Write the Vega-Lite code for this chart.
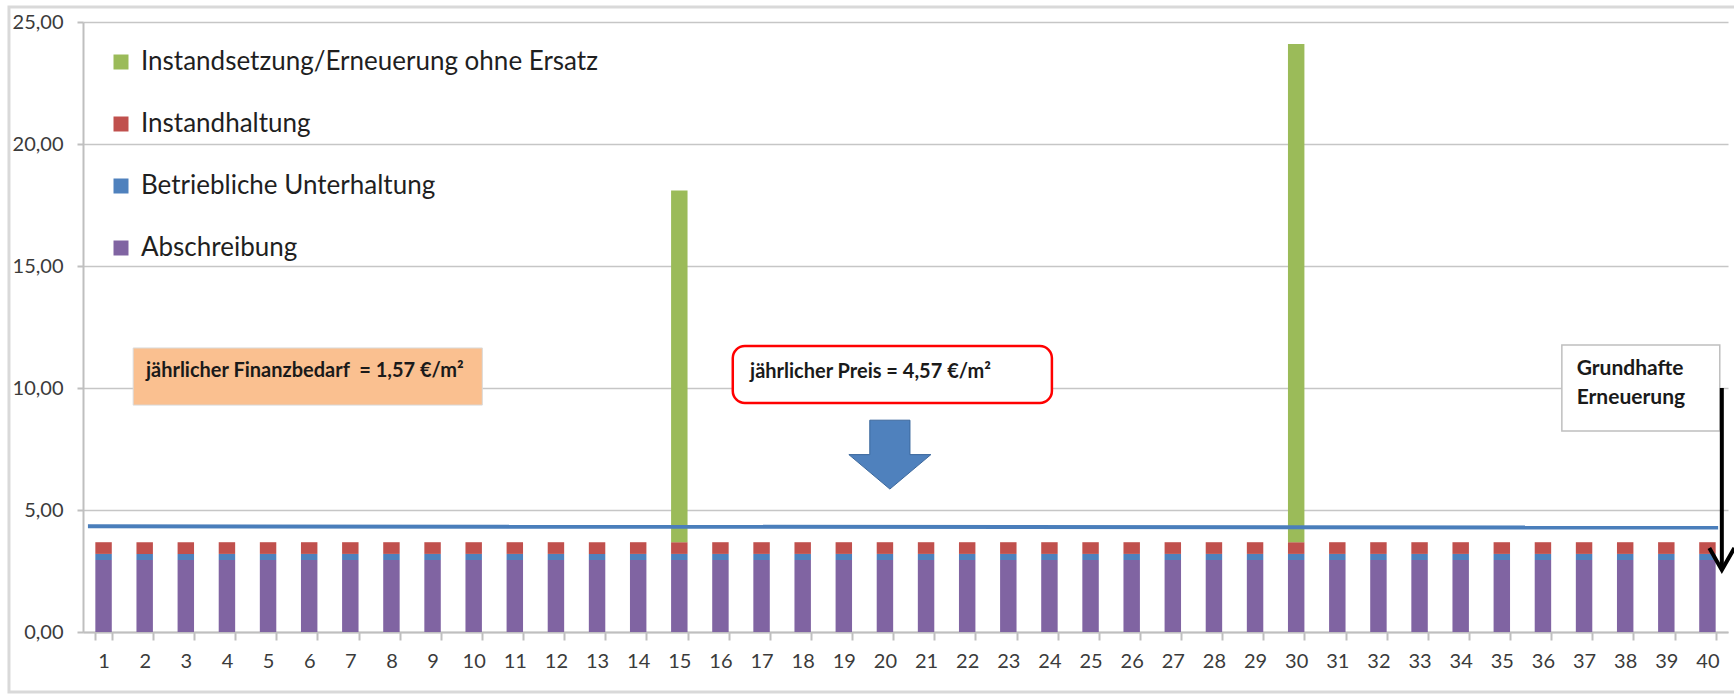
{
  "$schema": "https://vega.github.io/schema/vega-lite/v6.json",
  "width": 1645,
  "height": 610,
  "autosize": {"type": "none"},
  "padding": {"left": 83, "top": 22, "right": 6, "bottom": 63},
  "background": "white",
  "config": {"view": {"stroke": null}, "font": "Lato"},
  "resolve": {"scale": {"x": "independent"}},
  "layer": [
    {
      "data": {"values": [{"rahmen": "Diagrammrahmen"}]},
      "mark": {"type": "rect", "fill": null, "stroke": "#D9D9D9", "strokeWidth": 3, "clip": false},
      "encoding": {
        "x": {"datum": -1.3, "type": "quantitative", "scale": {"domain": [0.5, 40.5], "nice": false, "zero": false}, "axis": null},
        "x2": {"datum": 41.0},
        "y": {"datum": 25.61, "type": "quantitative"},
        "y2": {"datum": -2.46}
      }
    },
    {
      "data": {"values": [
        {"Jahr":1,"Kategorie":"Abschreibung","Wert":2.95},{"Jahr":1,"Kategorie":"Betriebliche Unterhaltung","Wert":0.25},{"Jahr":1,"Kategorie":"Instandhaltung","Wert":0.48},
        {"Jahr":2,"Kategorie":"Abschreibung","Wert":2.95},{"Jahr":2,"Kategorie":"Betriebliche Unterhaltung","Wert":0.25},{"Jahr":2,"Kategorie":"Instandhaltung","Wert":0.48},
        {"Jahr":3,"Kategorie":"Abschreibung","Wert":2.95},{"Jahr":3,"Kategorie":"Betriebliche Unterhaltung","Wert":0.25},{"Jahr":3,"Kategorie":"Instandhaltung","Wert":0.48},
        {"Jahr":4,"Kategorie":"Abschreibung","Wert":2.95},{"Jahr":4,"Kategorie":"Betriebliche Unterhaltung","Wert":0.25},{"Jahr":4,"Kategorie":"Instandhaltung","Wert":0.48},
        {"Jahr":5,"Kategorie":"Abschreibung","Wert":2.95},{"Jahr":5,"Kategorie":"Betriebliche Unterhaltung","Wert":0.25},{"Jahr":5,"Kategorie":"Instandhaltung","Wert":0.48},
        {"Jahr":6,"Kategorie":"Abschreibung","Wert":2.95},{"Jahr":6,"Kategorie":"Betriebliche Unterhaltung","Wert":0.25},{"Jahr":6,"Kategorie":"Instandhaltung","Wert":0.48},
        {"Jahr":7,"Kategorie":"Abschreibung","Wert":2.95},{"Jahr":7,"Kategorie":"Betriebliche Unterhaltung","Wert":0.25},{"Jahr":7,"Kategorie":"Instandhaltung","Wert":0.48},
        {"Jahr":8,"Kategorie":"Abschreibung","Wert":2.95},{"Jahr":8,"Kategorie":"Betriebliche Unterhaltung","Wert":0.25},{"Jahr":8,"Kategorie":"Instandhaltung","Wert":0.48},
        {"Jahr":9,"Kategorie":"Abschreibung","Wert":2.95},{"Jahr":9,"Kategorie":"Betriebliche Unterhaltung","Wert":0.25},{"Jahr":9,"Kategorie":"Instandhaltung","Wert":0.48},
        {"Jahr":10,"Kategorie":"Abschreibung","Wert":2.95},{"Jahr":10,"Kategorie":"Betriebliche Unterhaltung","Wert":0.25},{"Jahr":10,"Kategorie":"Instandhaltung","Wert":0.48},
        {"Jahr":11,"Kategorie":"Abschreibung","Wert":2.95},{"Jahr":11,"Kategorie":"Betriebliche Unterhaltung","Wert":0.25},{"Jahr":11,"Kategorie":"Instandhaltung","Wert":0.48},
        {"Jahr":12,"Kategorie":"Abschreibung","Wert":2.95},{"Jahr":12,"Kategorie":"Betriebliche Unterhaltung","Wert":0.25},{"Jahr":12,"Kategorie":"Instandhaltung","Wert":0.48},
        {"Jahr":13,"Kategorie":"Abschreibung","Wert":2.95},{"Jahr":13,"Kategorie":"Betriebliche Unterhaltung","Wert":0.25},{"Jahr":13,"Kategorie":"Instandhaltung","Wert":0.48},
        {"Jahr":14,"Kategorie":"Abschreibung","Wert":2.95},{"Jahr":14,"Kategorie":"Betriebliche Unterhaltung","Wert":0.25},{"Jahr":14,"Kategorie":"Instandhaltung","Wert":0.48},
        {"Jahr":15,"Kategorie":"Abschreibung","Wert":2.95},{"Jahr":15,"Kategorie":"Betriebliche Unterhaltung","Wert":0.25},{"Jahr":15,"Kategorie":"Instandhaltung","Wert":0.48},
        {"Jahr":16,"Kategorie":"Abschreibung","Wert":2.95},{"Jahr":16,"Kategorie":"Betriebliche Unterhaltung","Wert":0.25},{"Jahr":16,"Kategorie":"Instandhaltung","Wert":0.48},
        {"Jahr":17,"Kategorie":"Abschreibung","Wert":2.95},{"Jahr":17,"Kategorie":"Betriebliche Unterhaltung","Wert":0.25},{"Jahr":17,"Kategorie":"Instandhaltung","Wert":0.48},
        {"Jahr":18,"Kategorie":"Abschreibung","Wert":2.95},{"Jahr":18,"Kategorie":"Betriebliche Unterhaltung","Wert":0.25},{"Jahr":18,"Kategorie":"Instandhaltung","Wert":0.48},
        {"Jahr":19,"Kategorie":"Abschreibung","Wert":2.95},{"Jahr":19,"Kategorie":"Betriebliche Unterhaltung","Wert":0.25},{"Jahr":19,"Kategorie":"Instandhaltung","Wert":0.48},
        {"Jahr":20,"Kategorie":"Abschreibung","Wert":2.95},{"Jahr":20,"Kategorie":"Betriebliche Unterhaltung","Wert":0.25},{"Jahr":20,"Kategorie":"Instandhaltung","Wert":0.48},
        {"Jahr":21,"Kategorie":"Abschreibung","Wert":2.95},{"Jahr":21,"Kategorie":"Betriebliche Unterhaltung","Wert":0.25},{"Jahr":21,"Kategorie":"Instandhaltung","Wert":0.48},
        {"Jahr":22,"Kategorie":"Abschreibung","Wert":2.95},{"Jahr":22,"Kategorie":"Betriebliche Unterhaltung","Wert":0.25},{"Jahr":22,"Kategorie":"Instandhaltung","Wert":0.48},
        {"Jahr":23,"Kategorie":"Abschreibung","Wert":2.95},{"Jahr":23,"Kategorie":"Betriebliche Unterhaltung","Wert":0.25},{"Jahr":23,"Kategorie":"Instandhaltung","Wert":0.48},
        {"Jahr":24,"Kategorie":"Abschreibung","Wert":2.95},{"Jahr":24,"Kategorie":"Betriebliche Unterhaltung","Wert":0.25},{"Jahr":24,"Kategorie":"Instandhaltung","Wert":0.48},
        {"Jahr":25,"Kategorie":"Abschreibung","Wert":2.95},{"Jahr":25,"Kategorie":"Betriebliche Unterhaltung","Wert":0.25},{"Jahr":25,"Kategorie":"Instandhaltung","Wert":0.48},
        {"Jahr":26,"Kategorie":"Abschreibung","Wert":2.95},{"Jahr":26,"Kategorie":"Betriebliche Unterhaltung","Wert":0.25},{"Jahr":26,"Kategorie":"Instandhaltung","Wert":0.48},
        {"Jahr":27,"Kategorie":"Abschreibung","Wert":2.95},{"Jahr":27,"Kategorie":"Betriebliche Unterhaltung","Wert":0.25},{"Jahr":27,"Kategorie":"Instandhaltung","Wert":0.48},
        {"Jahr":28,"Kategorie":"Abschreibung","Wert":2.95},{"Jahr":28,"Kategorie":"Betriebliche Unterhaltung","Wert":0.25},{"Jahr":28,"Kategorie":"Instandhaltung","Wert":0.48},
        {"Jahr":29,"Kategorie":"Abschreibung","Wert":2.95},{"Jahr":29,"Kategorie":"Betriebliche Unterhaltung","Wert":0.25},{"Jahr":29,"Kategorie":"Instandhaltung","Wert":0.48},
        {"Jahr":30,"Kategorie":"Abschreibung","Wert":2.95},{"Jahr":30,"Kategorie":"Betriebliche Unterhaltung","Wert":0.25},{"Jahr":30,"Kategorie":"Instandhaltung","Wert":0.48},
        {"Jahr":31,"Kategorie":"Abschreibung","Wert":2.95},{"Jahr":31,"Kategorie":"Betriebliche Unterhaltung","Wert":0.25},{"Jahr":31,"Kategorie":"Instandhaltung","Wert":0.48},
        {"Jahr":32,"Kategorie":"Abschreibung","Wert":2.95},{"Jahr":32,"Kategorie":"Betriebliche Unterhaltung","Wert":0.25},{"Jahr":32,"Kategorie":"Instandhaltung","Wert":0.48},
        {"Jahr":33,"Kategorie":"Abschreibung","Wert":2.95},{"Jahr":33,"Kategorie":"Betriebliche Unterhaltung","Wert":0.25},{"Jahr":33,"Kategorie":"Instandhaltung","Wert":0.48},
        {"Jahr":34,"Kategorie":"Abschreibung","Wert":2.95},{"Jahr":34,"Kategorie":"Betriebliche Unterhaltung","Wert":0.25},{"Jahr":34,"Kategorie":"Instandhaltung","Wert":0.48},
        {"Jahr":35,"Kategorie":"Abschreibung","Wert":2.95},{"Jahr":35,"Kategorie":"Betriebliche Unterhaltung","Wert":0.25},{"Jahr":35,"Kategorie":"Instandhaltung","Wert":0.48},
        {"Jahr":36,"Kategorie":"Abschreibung","Wert":2.95},{"Jahr":36,"Kategorie":"Betriebliche Unterhaltung","Wert":0.25},{"Jahr":36,"Kategorie":"Instandhaltung","Wert":0.48},
        {"Jahr":37,"Kategorie":"Abschreibung","Wert":2.95},{"Jahr":37,"Kategorie":"Betriebliche Unterhaltung","Wert":0.25},{"Jahr":37,"Kategorie":"Instandhaltung","Wert":0.48},
        {"Jahr":38,"Kategorie":"Abschreibung","Wert":2.95},{"Jahr":38,"Kategorie":"Betriebliche Unterhaltung","Wert":0.25},{"Jahr":38,"Kategorie":"Instandhaltung","Wert":0.48},
        {"Jahr":39,"Kategorie":"Abschreibung","Wert":2.95},{"Jahr":39,"Kategorie":"Betriebliche Unterhaltung","Wert":0.25},{"Jahr":39,"Kategorie":"Instandhaltung","Wert":0.48},
        {"Jahr":40,"Kategorie":"Abschreibung","Wert":2.95},{"Jahr":40,"Kategorie":"Betriebliche Unterhaltung","Wert":0.25},{"Jahr":40,"Kategorie":"Instandhaltung","Wert":0.48},
        {"Jahr":15,"Kategorie":"Instandsetzung/Erneuerung ohne Ersatz","Wert":14.41},
        {"Jahr":30,"Kategorie":"Instandsetzung/Erneuerung ohne Ersatz","Wert":20.42}
      ]},
      "mark": {"type": "bar"},
      "encoding": {
        "x": {
          "field": "Jahr", "type": "ordinal",
          "scale": {"paddingInner": 0.6, "paddingOuter": 0.3},
          "axis": {
            "title": null, "labelAngle": 0, "labelFontSize": 20, "labelColor": "#3b3b3b",
            "labelPadding": 11, "tickBand": "extent", "tickSize": 8, "tickColor": "#BFBFBF",
            "tickWidth": 2, "domainColor": "#BFBFBF", "domainWidth": 2, "grid": false
          }
        },
        "y": {
          "field": "Wert", "type": "quantitative", "stack": "zero",
          "scale": {"domain": [0, 25], "nice": false},
          "axis": {
            "title": null, "values": [0, 5, 10, 15, 20, 25],
            "labelExpr": "replace(format(datum.value, '.2f'), '.', ',')",
            "labelFontSize": 20, "labelColor": "#3b3b3b", "labelPadding": 14,
            "tickSize": 6, "tickColor": "#BFBFBF", "tickWidth": 2,
            "domainColor": "#BFBFBF", "domainWidth": 2,
            "grid": true, "gridColor": "#C6C6C6", "gridWidth": 1.5
          }
        },
        "color": {
          "field": "Kategorie", "type": "nominal",
          "scale": {
            "domain": ["Instandsetzung/Erneuerung ohne Ersatz", "Instandhaltung", "Betriebliche Unterhaltung", "Abschreibung"],
            "range": ["#9BBB59", "#C0504D", "#4F81BD", "#8064A2"]
          },
          "legend": {
            "title": null, "orient": "none", "legendX": 25, "legendY": 27, "padding": 0,
            "symbolType": "square", "symbolSize": 225, "symbolStrokeWidth": 0, "symbolOpacity": 1,
            "labelFontSize": 26, "labelColor": "#1f1f1f", "labelOffset": 7, "labelLimit": 900,
            "rowPadding": 36
          }
        },
        "order": {"field": "Kategorie", "sort": "ascending"}
      }
    },
    {
      "data": {"values": [{"Text": "jährlicher Finanzbedarf \u00a0= 1,57 €/m²"}]},
      "layer": [
        {
          "mark": {"type": "rect", "fill": "#FAC090", "stroke": "#DADADA", "strokeWidth": 1},
          "encoding": {
            "x": {"datum": 1.72, "type": "quantitative", "scale": {"domain": [0.5, 40.5], "nice": false, "zero": false}, "axis": null},
            "x2": {"datum": 10.21},
            "y": {"datum": 11.64, "type": "quantitative"},
            "y2": {"datum": 9.3}
          }
        },
        {
          "mark": {"type": "text", "align": "left", "baseline": "middle", "fontSize": 20, "fontWeight": "bold", "color": "#1a1a1a"},
          "encoding": {
            "x": {"datum": 2.03, "type": "quantitative", "scale": {"domain": [0.5, 40.5], "nice": false, "zero": false}, "axis": null},
            "y": {"datum": 10.7, "type": "quantitative"},
            "text": {"field": "Text"}
          }
        }
      ]
    },
    {
      "data": {"values": [{"Text": "jährlicher Preis = 4,57 €/m²"}]},
      "layer": [
        {
          "mark": {"type": "rect", "fill": "white", "stroke": "#FF0000", "strokeWidth": 2.5, "cornerRadius": 12},
          "encoding": {
            "x": {"datum": 16.3, "type": "quantitative", "scale": {"domain": [0.5, 40.5], "nice": false, "zero": false}, "axis": null},
            "x2": {"datum": 24.06},
            "y": {"datum": 11.72, "type": "quantitative"},
            "y2": {"datum": 9.39}
          }
        },
        {
          "mark": {"type": "text", "align": "left", "baseline": "middle", "fontSize": 20, "fontWeight": "bold", "color": "#1a1a1a"},
          "encoding": {
            "x": {"datum": 16.72, "type": "quantitative", "scale": {"domain": [0.5, 40.5], "nice": false, "zero": false}, "axis": null},
            "y": {"datum": 10.66, "type": "quantitative"},
            "text": {"field": "Text"}
          }
        }
      ]
    },
    {
      "data": {"values": [{"Pfeil": "Preis"}]},
      "mark": {
        "type": "point", "filled": true, "opacity": 1, "fill": "#4F81BD", "stroke": "#3A679C", "strokeWidth": 1,
        "size": 6724, "shape": "M -0.49 -0.84 L 0.49 -0.84 L 0.49 0 L 1 0 L 0 0.84 L -1 0 L -0.49 0 Z"
      },
      "encoding": {
        "x": {"datum": 20.12, "type": "quantitative", "scale": {"domain": [0.5, 40.5], "nice": false, "zero": false}, "axis": null},
        "y": {"datum": 7.27, "type": "quantitative"}
      }
    },
    {
      "data": {"values": [{"Zeile1": "Grundhafte", "Zeile2": "Erneuerung"}]},
      "layer": [
        {
          "mark": {"type": "rect", "fill": "white", "stroke": "#BFBFBF", "strokeWidth": 1.5},
          "encoding": {
            "x": {"datum": 36.46, "type": "quantitative", "scale": {"domain": [0.5, 40.5], "nice": false, "zero": false}, "axis": null},
            "x2": {"datum": 40.3},
            "y": {"datum": 11.76, "type": "quantitative"},
            "y2": {"datum": 8.24}
          }
        },
        {
          "mark": {"type": "text", "align": "left", "baseline": "middle", "fontSize": 21, "fontWeight": "bold", "color": "#1a1a1a"},
          "encoding": {
            "x": {"datum": 36.82, "type": "quantitative", "scale": {"domain": [0.5, 40.5], "nice": false, "zero": false}, "axis": null},
            "y": {"datum": 10.78, "type": "quantitative"},
            "text": {"field": "Zeile1"}
          }
        },
        {
          "mark": {"type": "text", "align": "left", "baseline": "middle", "fontSize": 21, "fontWeight": "bold", "color": "#1a1a1a"},
          "encoding": {
            "x": {"datum": 36.82, "type": "quantitative", "scale": {"domain": [0.5, 40.5], "nice": false, "zero": false}, "axis": null},
            "y": {"datum": 9.6, "type": "quantitative"},
            "text": {"field": "Zeile2"}
          }
        }
      ]
    },
    {
      "data": {"values": [{"Jahr": 0.62, "Preis": 4.33}, {"Jahr": 40.26, "Preis": 4.28}]},
      "mark": {"type": "line", "color": "#4A7EBB", "strokeWidth": 4},
      "encoding": {
        "x": {"field": "Jahr", "type": "quantitative", "scale": {"domain": [0.5, 40.5], "nice": false, "zero": false}, "axis": null},
        "y": {"field": "Preis", "type": "quantitative"}
      }
    },
    {
      "data": {"values": [{"Pfeil": "Grundhafte Erneuerung"}]},
      "layer": [
        {
          "mark": {"type": "rule", "color": "black", "strokeWidth": 4},
          "encoding": {
            "x": {"datum": 40.35, "type": "quantitative", "scale": {"domain": [0.5, 40.5], "nice": false, "zero": false}, "axis": null},
            "y": {"datum": 10.0, "type": "quantitative"},
            "y2": {"datum": 2.62}
          }
        },
        {
          "mark": {
            "type": "point", "filled": false, "opacity": 1, "stroke": "black", "strokeWidth": 4,
            "size": 625, "shape": "M -1 -1.76 L 0 0 L 1 -1.76"
          },
          "encoding": {
            "x": {"datum": 40.35, "type": "quantitative", "scale": {"domain": [0.5, 40.5], "nice": false, "zero": false}, "axis": null},
            "y": {"datum": 2.54, "type": "quantitative"}
          }
        }
      ]
    }
  ]
}
